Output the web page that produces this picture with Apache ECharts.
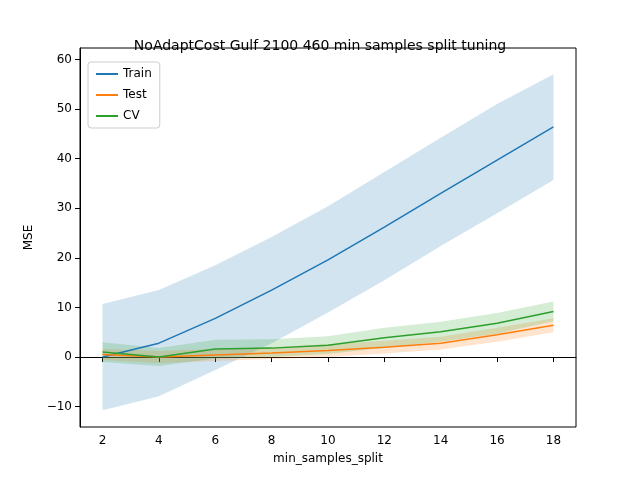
<!DOCTYPE html>
<html>
<head>
<meta charset="utf-8">
<script src="https://cdn.jsdelivr.net/npm/echarts@6/dist/echarts.min.js"></script>
<style>html,body{margin:0;background:#fff}#c{width:640px;height:480px}</style>
</head>
<body>
<div id="c"></div>
<script>
const xs = [2, 4, 6, 8, 10, 12, 14, 16, 18];
const trainMean = [0, 2.8, 7.8, 13.5, 19.6, 26.2, 33, 39.7, 46.4];
const trainLow = [-10.7, -7.9, -2.6, 2.8, 9, 15.5, 22.4, 29, 35.7];
const trainHigh = [10.7, 13.5, 18.5, 24.2, 30.4, 37.3, 44.2, 51, 57];
const testMean = [0.5, 0, 0.4, 0.8, 1.3, 2, 2.8, 4.5, 6.4];
const testLow = [-0.6, -1.2, -0.8, -0.4, 0, 0.7, 1.5, 3.1, 5];
const testHigh = [1.6, 1.2, 1.6, 2, 2.6, 3.3, 4.1, 5.9, 7.8];
const cvMean = [1, 0, 1.6, 1.8, 2.4, 3.9, 5.1, 6.8, 9.2];
const cvLow = [-1, -1.8, -0.3, 0, 0.6, 1.9, 3.1, 4.7, 7.2];
const cvHigh = [3, 1.8, 3.5, 3.6, 4.2, 5.9, 7.1, 8.9, 11.2];
const yTicks = [-10, 0, 10, 20, 30, 40, 50, 60];

const pair = (arr) => xs.map((x, i) => [x, arr[i]]);

// filled band between lo and hi, drawn as one polygon through the axis scales
function band(lo, hi, color) {
  return {
    type: 'custom', silent: true, z: 1,
    data: xs.map((x, i) => [x, lo[i], hi[i]]),
    renderItem: function (params, api) {
      if (params.dataIndex !== 0) return null;
      const top = xs.map((x, i) => api.coord([x, hi[i]]));
      const bot = xs.map((x, i) => api.coord([x, lo[i]])).reverse();
      return { type: 'polygon', shape: { points: top.concat(bot) },
        style: { fill: color, opacity: 0.2 } };
    }
  };
}
function line(name, data, color) {
  return { name: name, type: 'line', data: pair(data), symbol: 'none',
    lineStyle: { color: color, width: 1.5 }, itemStyle: { color: color }, z: 3 };
}

const chart = echarts.init(document.getElementById('c'));
chart.setOption({
  animation: false,
  title: { text: 'NoAdaptCost Gulf 2100 460 min samples split tuning', left: 'center', top: 34,
    textStyle: { fontFamily: 'DejaVu Sans', fontSize: 14, fontWeight: 'normal', color: '#000' } },
  legend: { data: ['Train', 'Test', 'CV'], orient: 'vertical', left: 88, top: 62,
    itemWidth: 22, itemHeight: 2, itemGap: 9, icon: 'rect',
    backgroundColor: '#fff', borderColor: '#ccc', borderWidth: 1, borderRadius: 3, padding: [6, 8],
    textStyle: { fontFamily: 'DejaVu Sans', fontSize: 12, color: '#000' } },
  grid: { left: 80, right: 64, top: 48, bottom: 53, show: true, borderColor: '#000', borderWidth: 1 },
  xAxis: { type: 'value', min: 1.2, max: 18.8, name: 'min_samples_split', nameLocation: 'middle', nameGap: 26,
    nameTextStyle: { fontFamily: 'DejaVu Sans', fontSize: 12, color: '#000' },
    splitLine: { show: false }, axisLine: { lineStyle: { color: '#000' } },
    axisTick: { show: true, customValues: xs, lineStyle: { color: '#000' } },
    axisLabel: { customValues: xs, color: '#000', fontFamily: 'DejaVu Sans', fontSize: 12 } },
  yAxis: { type: 'value', min: -14.1, max: 62.3, name: 'MSE', nameLocation: 'middle', nameGap: 45,
    nameTextStyle: { fontFamily: 'DejaVu Sans', fontSize: 12, color: '#000' },
    splitLine: { show: false }, axisLine: { show: true, lineStyle: { color: '#000' } },
    axisTick: { show: true, customValues: yTicks, lineStyle: { color: '#000' } },
    axisLabel: { customValues: yTicks, color: '#000', fontFamily: 'DejaVu Sans', fontSize: 12,
      formatter: v => (v < 0 ? '\u2212' + Math.abs(v) : String(v)) } },
  series: [
    band(trainLow, trainHigh, '#1f77b4'),
    band(testLow, testHigh, '#ff7f0e'),
    band(cvLow, cvHigh, '#2ca02c'),
    line('Train', trainMean, '#1f77b4'),
    line('Test', testMean, '#ff7f0e'),
    line('CV', cvMean, '#2ca02c')
  ]
});
</script>
</body>
</html>
